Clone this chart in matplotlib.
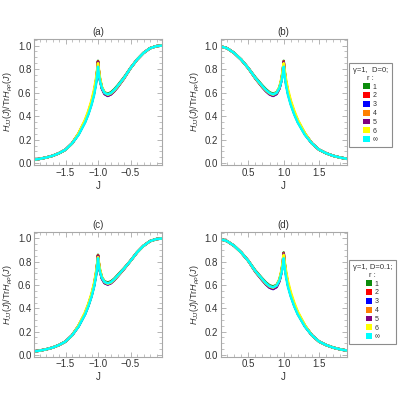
import matplotlib
matplotlib.use("Agg")
import matplotlib.pyplot as plt
from matplotlib.patches import Patch
from matplotlib.ticker import MultipleLocator

plt.rcParams['font.family'] = ['Liberation Sans', 'DejaVu Sans']
plt.rcParams['mathtext.fontset'] = 'custom'
plt.rcParams['mathtext.rm'] = 'Liberation Sans'
plt.rcParams['mathtext.it'] = 'Liberation Sans:italic'

# ---------------- data (|J| grid; left panels plotted at -J) ----------------
J_left = [0.02, 0.10, 0.20, 0.30, 0.40, 0.50]
H_left = [1.000, 0.995, 0.977, 0.937, 0.880, 0.808]
J_mid = [0.60, 0.70, 0.75, 0.80, 0.85, 0.90, 0.94, 0.97, 0.99, 1.00,
         1.01, 1.03, 1.06, 1.10, 1.15, 1.20, 1.30]
J_right = [1.40, 1.50, 1.60, 1.70, 1.80, 1.90, 1.98]
H_right = [0.168, 0.115, 0.085, 0.063, 0.048, 0.037, 0.030]

series_labels = ['1', '2', '3', '4', '5', '6', '\u221e']
series_colors = ['#0c8c0c', '#ff0000', '#0000ff', '#ff8000', '#800080', '#ffff00', '#00ffff']

# D = 0 (panels a and b)
D0_r1 = [0.730, 0.660, 0.628, 0.603, 0.590, 0.603, 0.645, 0.715, 0.800, 0.870, 0.790, 0.690, 0.595, 0.505, 0.420, 0.350, 0.245]
D0_r2 = [0.725, 0.652, 0.620, 0.595, 0.582, 0.596, 0.640, 0.712, 0.798, 0.865, 0.792, 0.694, 0.600, 0.510, 0.424, 0.354, 0.248]
D0_r3 = [0.720, 0.645, 0.612, 0.586, 0.572, 0.588, 0.634, 0.708, 0.795, 0.860, 0.793, 0.697, 0.603, 0.513, 0.427, 0.356, 0.249]
D0_r4 = [0.722, 0.648, 0.615, 0.590, 0.577, 0.592, 0.638, 0.712, 0.800, 0.862, 0.795, 0.700, 0.607, 0.517, 0.430, 0.358, 0.250]
D0_r5 = [0.720, 0.645, 0.612, 0.586, 0.573, 0.590, 0.637, 0.712, 0.800, 0.860, 0.797, 0.703, 0.610, 0.520, 0.432, 0.360, 0.251]
D0_r6 = [0.722, 0.650, 0.618, 0.594, 0.582, 0.600, 0.650, 0.730, 0.815, 0.850, 0.810, 0.725, 0.630, 0.535, 0.445, 0.370, 0.256]
D0_rinf = [0.725, 0.655, 0.622, 0.597, 0.585, 0.598, 0.640, 0.700, 0.770, 0.820, 0.760, 0.670, 0.580, 0.495, 0.412, 0.344, 0.240]

# D = 0.1, J < 0 (panel c)
Dn_r1 = [0.745, 0.685, 0.655, 0.632, 0.622, 0.632, 0.668, 0.728, 0.800, 0.860, 0.785, 0.690, 0.595, 0.505, 0.420, 0.350, 0.245]
Dn_r2 = [0.742, 0.680, 0.650, 0.626, 0.615, 0.626, 0.663, 0.724, 0.797, 0.855, 0.787, 0.693, 0.598, 0.508, 0.423, 0.352, 0.247]
Dn_r3 = [0.738, 0.674, 0.643, 0.618, 0.606, 0.618, 0.656, 0.719, 0.794, 0.850, 0.788, 0.696, 0.601, 0.511, 0.425, 0.354, 0.248]
Dn_r4 = [0.740, 0.677, 0.646, 0.622, 0.610, 0.622, 0.660, 0.722, 0.796, 0.852, 0.790, 0.698, 0.604, 0.514, 0.428, 0.356, 0.249]
Dn_r5 = [0.737, 0.672, 0.641, 0.616, 0.604, 0.617, 0.656, 0.720, 0.796, 0.850, 0.791, 0.700, 0.606, 0.516, 0.430, 0.358, 0.250]
Dn_r6 = [0.740, 0.676, 0.646, 0.622, 0.611, 0.626, 0.670, 0.738, 0.810, 0.840, 0.800, 0.715, 0.620, 0.528, 0.440, 0.366, 0.254]
Dn_rinf = [0.742, 0.680, 0.650, 0.626, 0.615, 0.627, 0.662, 0.715, 0.775, 0.830, 0.765, 0.675, 0.585, 0.498, 0.415, 0.346, 0.242]

# D = 0.1, J > 0 (panel d)
Dp_r1 = [0.725, 0.655, 0.622, 0.598, 0.588, 0.602, 0.648, 0.722, 0.810, 0.880, 0.800, 0.700, 0.600, 0.510, 0.423, 0.352, 0.246]
Dp_r2 = [0.720, 0.648, 0.614, 0.589, 0.578, 0.593, 0.641, 0.717, 0.806, 0.875, 0.802, 0.703, 0.604, 0.513, 0.426, 0.354, 0.247]
Dp_r3 = [0.714, 0.640, 0.605, 0.578, 0.566, 0.583, 0.633, 0.711, 0.802, 0.870, 0.803, 0.706, 0.607, 0.516, 0.429, 0.357, 0.249]
Dp_r4 = [0.717, 0.644, 0.609, 0.583, 0.572, 0.588, 0.637, 0.714, 0.805, 0.872, 0.805, 0.709, 0.611, 0.520, 0.432, 0.359, 0.250]
Dp_r5 = [0.714, 0.640, 0.605, 0.579, 0.567, 0.585, 0.636, 0.715, 0.806, 0.870, 0.807, 0.712, 0.614, 0.523, 0.434, 0.361, 0.251]
Dp_r6 = [0.717, 0.646, 0.612, 0.588, 0.578, 0.598, 0.652, 0.735, 0.825, 0.860, 0.820, 0.735, 0.635, 0.540, 0.448, 0.372, 0.256]
Dp_rinf = [0.720, 0.650, 0.616, 0.591, 0.581, 0.595, 0.640, 0.705, 0.780, 0.830, 0.770, 0.678, 0.585, 0.500, 0.415, 0.346, 0.242]

D0_series = [D0_r1, D0_r2, D0_r3, D0_r4, D0_r5, D0_r6, D0_rinf]
Dn_series = [Dn_r1, Dn_r2, Dn_r3, Dn_r4, Dn_r5, Dn_r6, Dn_rinf]
Dp_series = [Dp_r1, Dp_r2, Dp_r3, Dp_r4, Dp_r5, Dp_r6, Dp_rinf]

J_all = J_left + J_mid + J_right

# ---------------- figure ----------------
W = H = 399
fig = plt.figure(figsize=(W / 100, H / 100), dpi=100)

def px_axes(l, r, t, b):
    return fig.add_axes([l / W, 1 - b / H, (r - l) / W, (b - t) / H])

frame_col = '#a8a8a8'
text_col = '#333333'

def style(ax, xlim):
    ax.set_xlim(*xlim)
    ax.set_ylim(-0.015, 1.053)
    ax.xaxis.set_major_locator(MultipleLocator(0.5))
    ax.xaxis.set_minor_locator(MultipleLocator(0.1))
    ax.yaxis.set_major_locator(MultipleLocator(0.2))
    ax.yaxis.set_minor_locator(MultipleLocator(0.05))
    for s in ax.spines.values():
        s.set_color(frame_col)
        s.set_linewidth(0.8)
    ax.tick_params(which='both', direction='in', top=True, right=True,
                   color=frame_col, labelsize=7, labelcolor=text_col, pad=2)
    ax.tick_params(which='major', length=3.5, width=0.6)
    ax.tick_params(which='minor', length=2, width=0.5)
    ax.set_xlabel('J', fontsize=7, color=text_col, labelpad=2)
    ax.set_ylabel(r'$H_{JJ}(J)/\mathrm{Tr}H_{\rho\rho}(J)$', fontsize=6.5,
                  color=text_col, labelpad=2)

def full(vals):
    return H_left + vals + H_right

panels = [
    ('(a)', (34.3, 161.7, 39.3, 165.0), (-1.98, -0.02), D0_series, -1),
    ('(b)', (220.7, 346.7, 39.3, 165.0), (0.11, 1.89), D0_series, 1),
    ('(c)', (34.3, 161.7, 232.3, 356.7), (-1.98, -0.02), Dn_series, -1),
    ('(d)', (220.7, 346.7, 232.3, 356.7), (0.11, 1.89), Dp_series, 1),
]

axes = []
for title, box, xlim, series, sign in panels:
    ax = px_axes(*box)
    xs = [sign * j for j in J_all]
    for vals, col in zip(series, series_colors):
        ax.plot(xs, full(vals), color=col, lw=1.8, solid_capstyle='round')
    style(ax, xlim)
    ax.set_title(title, fontsize=7, color=text_col, pad=3)
    axes.append(ax)

def add_legend(ax, title, top_px):
    handles = [Patch(facecolor=c, edgecolor='none') for c in series_colors]
    leg = ax.legend(handles, series_labels, title=title, loc='upper left',
                    bbox_to_anchor=(349 / W, 1 - top_px / H),
                    bbox_transform=fig.transFigure,
                    fontsize=5, title_fontsize=5.5, handlelength=0.9,
                    handleheight=0.9, handletextpad=0.4, labelspacing=0.22,
                    borderpad=0.55, frameon=True, fancybox=False,
                    alignment='center', borderaxespad=0)
    leg.get_frame().set_edgecolor('#707070')
    leg.get_frame().set_linewidth(0.8)
    for t in leg.get_texts():
        t.set_color(text_col)
    leg.get_title().set_color(text_col)
    leg.get_title().set_multialignment('center')

add_legend(axes[1], '\u03b3=1,  D=0;\nr :', 63)
add_legend(axes[3], '\u03b3=1, D=0.1;\nr :', 260)

fig.savefig('out.png', dpi=100)
